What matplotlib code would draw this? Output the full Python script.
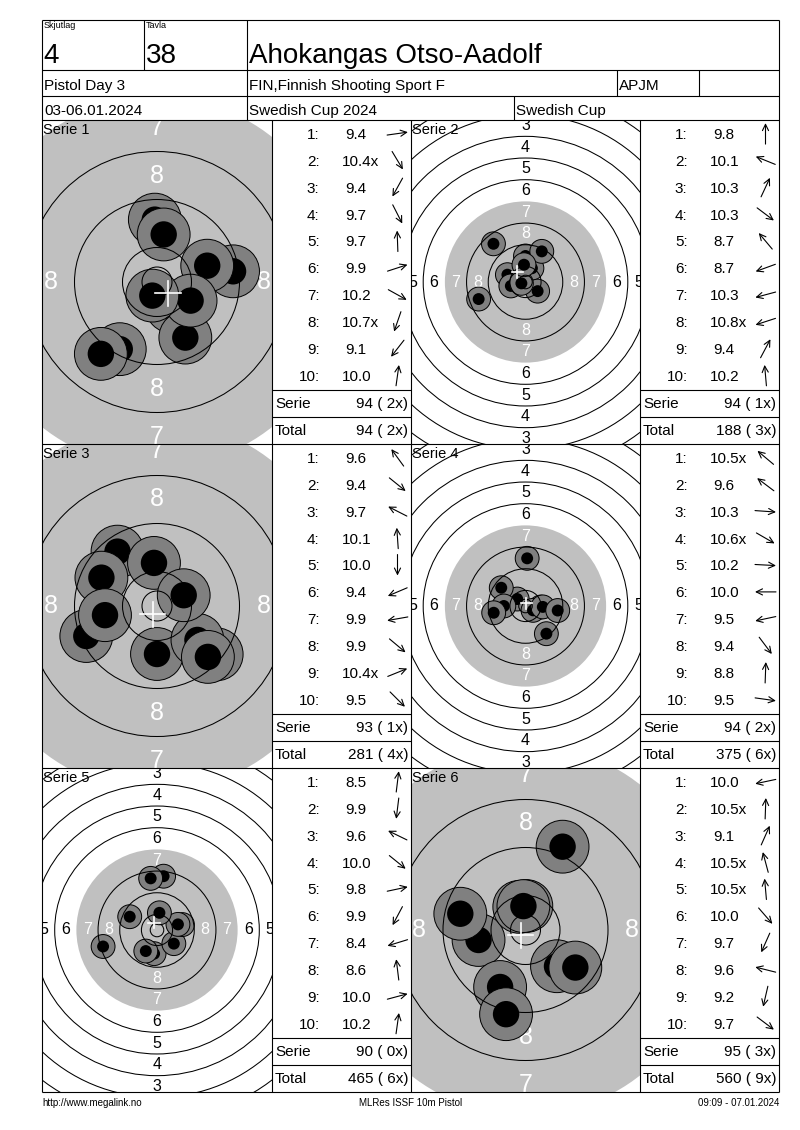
import numpy as np
import matplotlib
matplotlib.use("Agg")
import matplotlib.pyplot as plt
from matplotlib.patches import Circle

plt.rcParams['font.family'] = ['Liberation Sans', 'DejaVu Sans']

# ------------------------- data -------------------------
skjutlag = "4"
tavla = "38"
shooter = "Ahokangas Otso-Aadolf"
event_name = "Pistol Day 3"
club = "FIN,Finnish Shooting Sport F"
klass = "APJM"
dates = "03-06.01.2024"
competition = "Swedish Cup 2024"
cup = "Swedish Cup"
footer_left = "http://www.megalink.no"
footer_mid = "MLRes ISSF 10m Pistol"
footer_right = "09:09 - 07.01.2024"

series_names = ["Serie 1", "Serie 2", "Serie 3", "Serie 4", "Serie 5", "Serie 6"]

s1_scores = ["9.4", "10.4x", "9.4", "9.7", "9.7", "9.9", "10.2", "10.7x", "9.1", "10.0"]
s1_angles = [8, -59, 241, -63, 92, 18, -29, 251, 232, 82]
s2_scores = ["9.8", "10.1", "10.3", "10.3", "8.7", "8.7", "10.3", "10.8x", "9.4", "10.2"]
s2_angles = [90, 158, 65, -37, 130, 200, 195, 198, 62, 95]
s3_scores = ["9.6", "9.4", "9.7", "10.1", "10.0", "9.4", "9.9", "9.9", "10.4x", "9.5"]
s3_angles = [126, -39, 153, 94, 270, 203, 190, -40, 22, -45]
s4_scores = ["10.5x", "9.6", "10.3", "10.6x", "10.2", "10.0", "9.5", "9.4", "8.8", "9.5"]
s4_angles = [140, 143, -4, -30, -3, 180, 192, -53, 88, -8]
s5_scores = ["8.5", "9.9", "9.6", "10.0", "9.8", "9.9", "8.4", "8.6", "10.0", "10.2"]
s5_angles = [83, 263, 154, -39, 12, 242, 197, 97, 15, 82]
s6_scores = ["10.0", "10.5x", "9.1", "10.5x", "10.5x", "10.0", "9.7", "9.6", "9.2", "9.7"]
s6_angles = [192, 88, 66, 105, 95, -49, 246, 166, 257, -37]

serie_sums = [94, 94, 93, 94, 90, 95]
serie_inner = [2, 1, 1, 2, 0, 3]

all_scores = [s1_scores, s2_scores, s3_scores, s4_scores, s5_scores, s6_scores]
all_angles = [s1_angles, s2_angles, s3_angles, s4_angles, s5_angles, s6_angles]
total_sums = np.cumsum(serie_sums)
total_inner = np.cumsum(serie_inner)

# ------------------------- layout -------------------------
W, H = 800, 1130
fig = plt.figure(figsize=(W / 100, H / 100), dpi=100)
fig.patch.set_facecolor('white')

base = fig.add_axes([0, 0, 1, 1], zorder=5)
base.set_xlim(0, W)
base.set_ylim(H, 0)
base.axis('off')
base.patch.set_alpha(0)

LX, RX = 42, 779
TOP, BOT = 20, 1092
LW = 0.8
FS = 11


def hline(y, x0=LX, x1=RX):
    base.plot([x0, x1], [y, y], color='black', lw=LW, solid_capstyle='butt')


def vline(x, y0, y1):
    base.plot([x, x], [y0, y1], color='black', lw=LW, solid_capstyle='butt')


# outer frame and header grid
hline(TOP); hline(BOT)
vline(LX, TOP, BOT); vline(RX, TOP, BOT)
hline(70); hline(96); hline(120)
vline(144, TOP, 70)
vline(247, TOP, 120)
vline(617, 70, 96); vline(699, 70, 96)
vline(514, 96, 120)

panel_tops = [120, 444, 768]
PH = 324
hline(444); hline(768)
for x in (272, 411, 640):
    vline(x, 120, BOT)

# header texts
base.text(44, 28.5, "Skjutlag", fontsize=6.5, va='baseline', ha='left')
base.text(146, 28.5, "Tavla", fontsize=6.5, va='baseline', ha='left')
base.text(43, 63, skjutlag, fontsize=20, va='baseline', ha='left')
base.text(146, 63, tavla, fontsize=20, va='baseline', ha='left')
base.text(249, 63, shooter, fontsize=20, va='baseline', ha='left')
base.text(44, 90, event_name, fontsize=FS, va='baseline', ha='left')
base.text(249, 90, club, fontsize=FS, va='baseline', ha='left')
base.text(619, 90, klass, fontsize=FS, va='baseline', ha='left')
base.text(44, 115, dates, fontsize=FS, va='baseline', ha='left')
base.text(249, 115, competition, fontsize=FS, va='baseline', ha='left')
base.text(516, 115, cup, fontsize=FS, va='baseline', ha='left')

# footer
base.text(42, 1106, footer_left, fontsize=7, va='baseline', ha='left')
base.text((LX + RX) / 2, 1106, footer_mid, fontsize=7, va='baseline', ha='center')
base.text(RX, 1106, footer_right, fontsize=7, va='baseline', ha='right')


def ring_radius(n):
    return 5.75 + (10 - n) * 8.0


def shot_distance(s):
    return max((11.0 - s) * 8.0, 0.0)


GRAY_BG = '#c0c0c0'
SHOT_GRAY = '#808080'

target_cols = [(42, 272), (411, 640)]
table_cols = [272, 640]

for k in range(6):
    row, col = divmod(k, 2)
    y0 = panel_tops[row]
    tx0, tx1 = target_cols[col]
    tw = tx1 - tx0
    scores = all_scores[k]
    angles = all_angles[k]
    vals = np.array([float(s.rstrip('x')) for s in scores])
    zoomed = vals.min() >= 9.0
    scale = 6.0 if zoomed else 2.71  # px per mm

    ax = fig.add_axes([tx0 / W, 1 - (y0 + PH) / H, tw / W, PH / H], zorder=1)
    hw = tw / 2 / scale
    hh = PH / 2 / scale
    ax.set_xlim(-hw, hw)
    ax.set_ylim(-hh, hh)
    ax.set_aspect('auto')
    ax.axis('off')

    # black (grey) aiming area
    aim_r = ring_radius(7) + (1.1 if zoomed else 0.0)
    ax.add_patch(Circle((0, 0), aim_r, fc=GRAY_BG, ec='none', zorder=1))
    # rings
    for n in [1, 2, 3, 4, 5, 6, 8, 9, 10]:
        ax.add_patch(Circle((0, 0), ring_radius(n), fill=False, ec='black', lw=0.75, zorder=3))
    ax.add_patch(Circle((0, 0), 2.5, fill=False, ec='black', lw=0.75, zorder=3))
    # ring numbers (only those inside the visible window)
    lfs = 18 if zoomed else 11.5
    for n in range(1, 9):
        r = ring_radius(n) - 4.0
        c = 'white' if n >= 7 else 'black'
        pts = []
        if r <= hh + 1.0:
            pts += [(0, r), (0, -r)]
        if r <= hw + 1.0:
            pts += [(r, 0), (-r, 0)]
        for (px, py) in pts:
            ax.text(px, py, str(n), color=c, fontsize=lfs, ha='center', va='center',
                    clip_on=True, zorder=1.5)
    # shots
    d = np.array([shot_distance(v) for v in vals])
    ang = np.radians(np.array(angles, dtype=float))
    xs = d * np.cos(ang)
    ys = d * np.sin(ang)
    for x, y in zip(xs, ys):
        ax.add_patch(Circle((x, y), 4.4, fc=SHOT_GRAY, ec='black', lw=0.7, zorder=2))
        ax.add_patch(Circle((x, y), 2.2, fc='black', ec='none', zorder=2))
    # mean point of impact crosshair
    mx, my = xs.mean(), ys.mean()
    ax.plot([mx - 2.1, mx + 2.1], [my, my], color='white', lw=1.2, zorder=4)
    ax.plot([mx, mx], [my - 2.1, my + 2.1], color='white', lw=1.2, zorder=4)

    # series label
    base.text(tx0 + 1, y0 + 14, series_names[k], fontsize=10.5, va='baseline', ha='left')

    # score table
    c0 = table_cols[col]
    for i, (s, a) in enumerate(zip(scores, angles)):
        yb = y0 + 19 + 26.86 * i
        base.text(c0 + 47.5, yb, f"{i + 1}:", fontsize=FS, ha='right', va='baseline')
        sx = c0 + 69.7 if s.startswith('10') else c0 + 73.3
        base.text(sx, yb, s, fontsize=FS, ha='left', va='baseline')
        cx, cy = c0 + 125.5, y0 + 13.6 + 26.86 * i
        ar = np.radians(a)
        dx, dy = 10.5 * np.cos(ar), -10.5 * np.sin(ar)
        base.annotate('', xy=(cx + dx, cy + dy), xytext=(cx - dx, cy - dy),
                      arrowprops=dict(arrowstyle='->,head_length=0.45,head_width=0.22',
                                      lw=0.8, color='black', shrinkA=0, shrinkB=0,
                                      mutation_scale=10))
    hline(y0 + 270, c0, c0 + 139)
    hline(y0 + 297, c0, c0 + 139)
    base.text(c0 + 3, y0 + 288.3, "Serie", fontsize=FS, ha='left', va='baseline')
    base.text(c0 + 136.3, y0 + 288.3, f"{serie_sums[k]} ({serie_inner[k]:2d}x)",
              fontsize=FS, ha='right', va='baseline')
    base.text(c0 + 3, y0 + 315, "Total", fontsize=FS, ha='left', va='baseline')
    base.text(c0 + 136.3, y0 + 315, f"{total_sums[k]} ({total_inner[k]:2d}x)",
              fontsize=FS, ha='right', va='baseline')

fig.savefig("out.png", dpi=100, facecolor='white')
